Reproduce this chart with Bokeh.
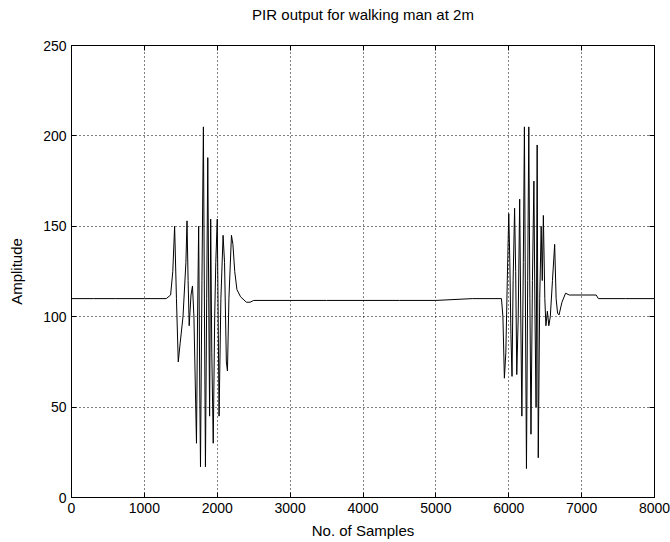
from bokeh.plotting import figure
from bokeh.models import Range1d, FixedTicker, LinearAxis, Title, CustomJSTickFormatter
from bokeh.embed import file_html
from bokeh.resources import INLINE

# Vertices of the trace (sample index, amplitude)
samples = [0, 300, 600, 1000, 1300, 1360, 1390, 1415, 1440, 1465, 1490, 1530, 1570, 1585, 1600, 1615,
           1640, 1660, 1680, 1700, 1715, 1730, 1745, 1760, 1770, 1790, 1810, 1825, 1838, 1855,
           1870, 1885, 1895, 1910, 1925, 1945, 1965, 1980, 2000, 2015, 2025, 2050, 2080, 2100,
           2125, 2140, 2160, 2195, 2215, 2240, 2270, 2320, 2400, 2450, 2500, 3000, 3500, 4000,
           4500, 5000, 5500, 5900, 5920, 5940, 5960, 5980, 6000, 6015, 6030, 6045, 6060, 6080,
           6095, 6110, 6130, 6150, 6165, 6180, 6200, 6215, 6230, 6243, 6260, 6275, 6290, 6305,
           6325, 6345, 6360, 6375, 6390, 6405, 6425, 6445, 6460, 6475, 6495, 6510, 6530, 6550,
           6570, 6600, 6630, 6650, 6670, 6690, 6730, 6780, 6830, 7200, 7230, 7600, 8000]
amplitude = [110, 110, 110, 110, 110, 112, 125, 150, 110, 75, 85, 100, 130, 153, 120, 95,
             112, 117, 100, 60, 30, 100, 150, 60, 17, 120, 205, 100, 17, 110,
             188, 100, 45, 154, 80, 30, 100, 130, 154, 90, 45, 110, 145, 130,
             75, 70, 110, 145, 140, 125, 115, 111, 108, 108, 109, 109, 109, 109,
             109, 109, 110, 110, 100, 66, 80, 120, 157, 130, 90, 67, 120, 160,
             125, 68, 100, 165, 100, 45, 130, 205, 100, 16, 120, 205, 110, 35,
             120, 175, 100, 50, 195, 22, 110, 150, 120, 156, 110, 95, 103, 95,
             100, 120, 140, 110, 102, 101, 108, 113, 112, 112, 110, 110, 110]

x_ticks = [0, 1000, 2000, 3000, 4000, 5000, 6000, 7000, 8000]
y_ticks = [0, 50, 100, 150, 200, 250]
title_text = "PIR output for walking man at 2m"

FONT = "Liberation Sans"

p = figure(width=670, height=542, output_backend="svg", toolbar_location=None,
           x_range=Range1d(0, 8000), y_range=Range1d(0, 250),
           min_border_left=71, min_border_right=16, min_border_top=45, min_border_bottom=45)

p.title = Title(text=title_text, align="center",
                text_font=FONT, text_font_size="15px", text_font_style="normal",
                text_color="black", offset=0, standoff=0)

p.line(samples, amplitude, line_color="black", line_width=1)

for ax in (p.xaxis[0], p.yaxis[0]):
    ax.major_tick_in = 5
    ax.major_tick_out = 0
    ax.minor_tick_in = 0
    ax.minor_tick_out = 0
    ax.axis_line_color = "black"
    ax.major_tick_line_color = "black"
    ax.major_label_text_font = FONT
    ax.major_label_text_font_size = "14px"
    ax.major_label_text_color = "black"
    ax.axis_label_text_font = FONT
    ax.axis_label_text_font_size = "15px"
    ax.axis_label_text_font_style = "normal"
    ax.axis_label_text_color = "black"

p.xaxis[0].ticker = FixedTicker(ticks=x_ticks)
p.yaxis[0].ticker = FixedTicker(ticks=y_ticks)
p.xaxis[0].axis_label = "No. of Samples"
p.yaxis[0].axis_label = "Amplitude"
p.xaxis[0].major_label_standoff = 5
p.yaxis[0].major_label_standoff = 5
p.xaxis[0].axis_label_standoff = 6
p.yaxis[0].axis_label_standoff = 15

blank = CustomJSTickFormatter(code="return ''")
# top axis: inward tick marks only (MATLAB box style)
top = LinearAxis(ticker=FixedTicker(ticks=x_ticks), formatter=blank,
                 major_tick_in=5, major_tick_out=0, minor_tick_in=0, minor_tick_out=0,
                 axis_line_color="black", major_tick_line_color="black")
# invisible spacer axis that lifts the title away from the frame
spacer = LinearAxis(ticker=FixedTicker(ticks=x_ticks), formatter=blank,
                    major_tick_in=0, major_tick_out=23, minor_tick_in=0, minor_tick_out=0,
                    axis_line_color=None, major_tick_line_color=None, minor_tick_line_color=None)
right = LinearAxis(ticker=FixedTicker(ticks=y_ticks), formatter=blank,
                   major_tick_in=5, major_tick_out=0, minor_tick_in=0, minor_tick_out=0,
                   axis_line_color="black", major_tick_line_color="black")
p.add_layout(top, "above")
p.add_layout(spacer, "above")
p.add_layout(right, "right")

p.xgrid.ticker = FixedTicker(ticks=x_ticks)
p.ygrid.ticker = FixedTicker(ticks=y_ticks)
for g in (p.xgrid, p.ygrid):
    g.grid_line_color = "black"
    g.grid_line_dash = "1 3"
    g.grid_line_width = 1

p.outline_line_color = "black"
p.background_fill_color = "white"
p.border_fill_color = "white"

open("out.html", "w").write(file_html(p, INLINE))
